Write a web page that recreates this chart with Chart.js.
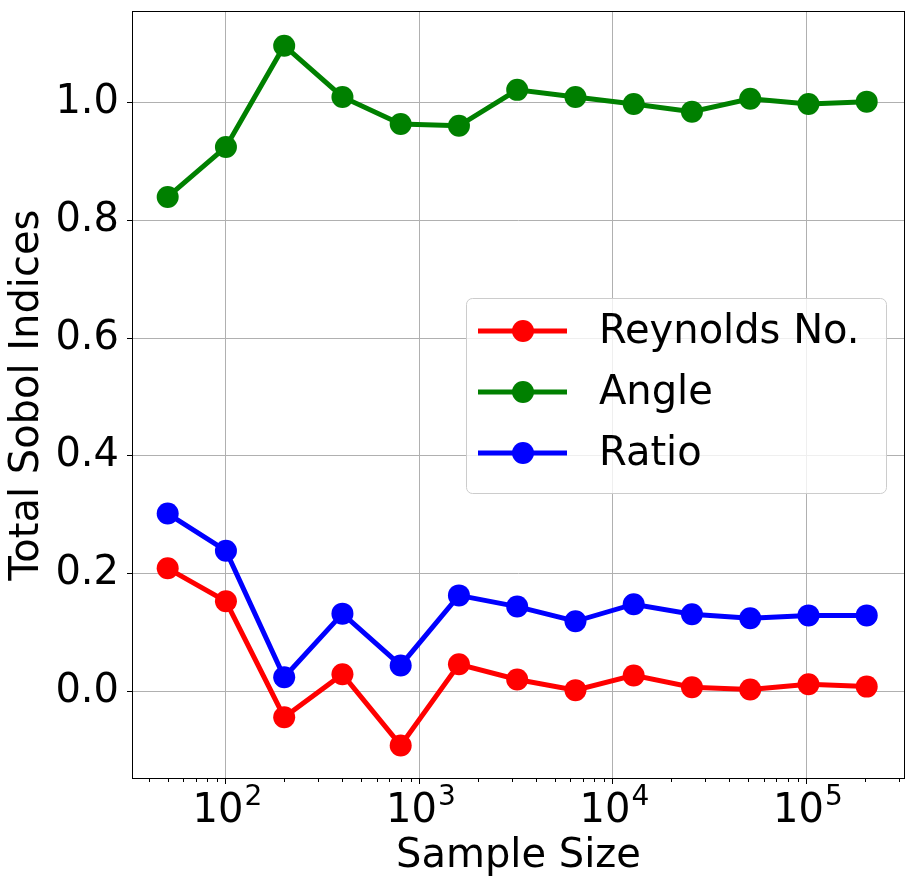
<!DOCTYPE html>
<html>
<head>
<meta charset="utf-8">
<title>Total Sobol Indices</title>
<script src="https://cdn.jsdelivr.net/npm/chart.js@4.4.1/dist/chart.umd.min.js"></script>
<style>
    html, body { margin: 0; padding: 0; background: #fff; }
    #wrap { width: 916px; height: 886px; }
</style>
</head>
<body>
<div id="wrap"><canvas id="sobol" width="916" height="886"></canvas></div>
<script>
    // Data
    const sampleSizes = [50, 100, 200, 400, 800, 1600, 3200, 6400, 12800, 25600, 51200, 102400, 204800];
    const reynolds = [0.209, 0.153, -0.044, 0.029, -0.092, 0.046, 0.020, 0.002, 0.027, 0.007, 0.003, 0.012, 0.008];
    const angle = [0.840, 0.925, 1.097, 1.010, 0.964, 0.961, 1.022, 1.010, 0.998, 0.985, 1.007, 0.998, 1.002];
    const ratio = [0.302, 0.239, 0.024, 0.132, 0.044, 0.163, 0.144, 0.119, 0.148, 0.131, 0.124, 0.129, 0.129];
    const seriesNames = ["Reynolds No.", "Angle", "Ratio"];
    const seriesColors = ["#ff0000", "#008000", "#0000ff"];
    const yTicks = [0.0, 0.2, 0.4, 0.6, 0.8, 1.0];
    const xTicks = [1e2, 1e3, 1e4, 1e5];
    const xTickExponents = ["2", "3", "4", "5"];

    const FONT = "'DejaVu Sans', sans-serif";
    Chart.defaults.font.family = FONT;
    Chart.defaults.font.size = 40;
    Chart.defaults.color = "#000";

    function toPoints(values) {
        return sampleSizes.map(function (s, i) { return {x: s, y: values[i]}; });
    }

    // frame, minor ticks, 10^n labels and legend, matplotlib style
    const decorations = {
        id: "decorations",
        afterDatasetsDraw: function (chart) {
            const ctx = chart.ctx;
            const area = chart.chartArea;
            const xs = chart.scales.x;
            ctx.save();

            // minor ticks on log axis
            ctx.strokeStyle = "#000";
            ctx.lineWidth = 1;
            for (let e = 1; e <= 5; e++) {
                for (let k = 2; k <= 9; k++) {
                    const v = k * Math.pow(10, e);
                    if (v < xs.min || v > xs.max) continue;
                    const px = Math.round(xs.getPixelForValue(v)) + 0.5;
                    ctx.beginPath();
                    ctx.moveTo(px, area.bottom);
                    ctx.lineTo(px, area.bottom + 3);
                    ctx.stroke();
                }
            }

            // 10^n tick labels
            ctx.fillStyle = "#000";
            ctx.textBaseline = "alphabetic";
            ctx.textAlign = "left";
            xTicks.forEach(function (v, i) {
                const px = xs.getPixelForValue(v);
                ctx.font = "40px " + FONT;
                const wBase = ctx.measureText("10").width;
                ctx.font = "28px " + FONT;
                const wExp = ctx.measureText(xTickExponents[i]).width;
                const x0 = px - (wBase + wExp) / 2 + 1;
                ctx.font = "40px " + FONT;
                ctx.fillText("10", x0, area.bottom + 43);
                ctx.font = "28px " + FONT;
                ctx.fillText(xTickExponents[i], x0 + wBase + 1, area.bottom + 26);
            });

            // axes frame
            ctx.strokeRect(area.left + 0.5, area.top + 0.5, area.right - area.left - 1, area.bottom - area.top - 1);

            // legend
            const bx = area.left + 334, by = area.top + 287, bw = 420, bh = 195;
            ctx.beginPath();
            ctx.roundRect(bx + 0.5, by + 0.5, bw, bh, 6);
            ctx.fillStyle = "rgba(255,255,255,0.8)";
            ctx.fill();
            ctx.strokeStyle = "#cccccc";
            ctx.lineWidth = 1;
            ctx.stroke();

            ctx.font = "40px " + FONT;
            ctx.textBaseline = "middle";
            ctx.textAlign = "left";
            chart.data.datasets.forEach(function (ds, i) {
                const cy = by + 33 + i * 61;
                ctx.strokeStyle = ds.borderColor;
                ctx.lineWidth = 5;
                ctx.beginPath();
                ctx.moveTo(bx + 12, cy);
                ctx.lineTo(bx + 101, cy);
                ctx.stroke();
                ctx.fillStyle = ds.borderColor;
                ctx.beginPath();
                ctx.arc(bx + 57, cy, 11, 0, Math.PI * 2);
                ctx.fill();
                ctx.fillStyle = "#000";
                ctx.fillText(ds.label, bx + 133, cy + 2);
            });
            ctx.restore();
        }
    };

    const datasets = [reynolds, angle, ratio].map(function (vals, i) {
        return {
            label: seriesNames[i],
            data: toPoints(vals),
            borderColor: seriesColors[i],
            backgroundColor: seriesColors[i],
            borderWidth: 5,
            pointRadius: 11,
            pointHoverRadius: 11,
            pointBorderWidth: 0,
            tension: 0,
            clip: false
        };
    });

    new Chart(document.getElementById("sobol"), {
        type: "line",
        data: {datasets: datasets},
        options: {
            responsive: false,
            animation: false,
            events: [],
            layout: {padding: {top: 10, right: 9, left: 0, bottom: 0}},
            plugins: {legend: {display: false}, tooltip: {enabled: false}},
            scales: {
                x: {
                    type: "logarithmic",
                    min: 32.7,
                    max: 323000,
                    afterBuildTicks: function (axis) {
                        axis.ticks = xTicks.map(function (v) { return {value: v, major: true}; });
                    },
                    afterFit: function (axis) {
                        axis.height = 107;
                        axis.paddingLeft = 0;
                        axis.paddingRight = 0;
                    },
                    ticks: {
                        autoSkip: false,
                        maxRotation: 0,
                        callback: function () { return ""; }
                    },
                    grid: {color: "#b0b0b0", lineWidth: 1, tickColor: "#000", tickLength: 5},
                    border: {display: false},
                    title: {display: true, text: "Sample Size", font: {size: 40, lineHeight: 1}, padding: {top: 0, bottom: 9}}
                },
                y: {
                    type: "linear",
                    min: -0.149,
                    max: 1.156,
                    afterBuildTicks: function (axis) {
                        axis.ticks = yTicks.map(function (v) { return {value: v}; });
                    },
                    afterFit: function (axis) {
                        axis.width = 132;
                        axis.paddingTop = 0;
                        axis.paddingBottom = 0;
                    },
                    ticks: {
                        padding: 8,
                        font: {size: 40},
                        callback: function (value) { return value.toFixed(1); }
                    },
                    grid: {color: "#b0b0b0", lineWidth: 1, tickColor: "#000", tickLength: 5},
                    border: {display: false},
                    title: {display: true, text: "Total Sobol Indices", font: {size: 40, lineHeight: 1}, padding: {top: 8, bottom: 0}}
                }
            }
        },
        plugins: [decorations]
    });
</script>
</body>
</html>
